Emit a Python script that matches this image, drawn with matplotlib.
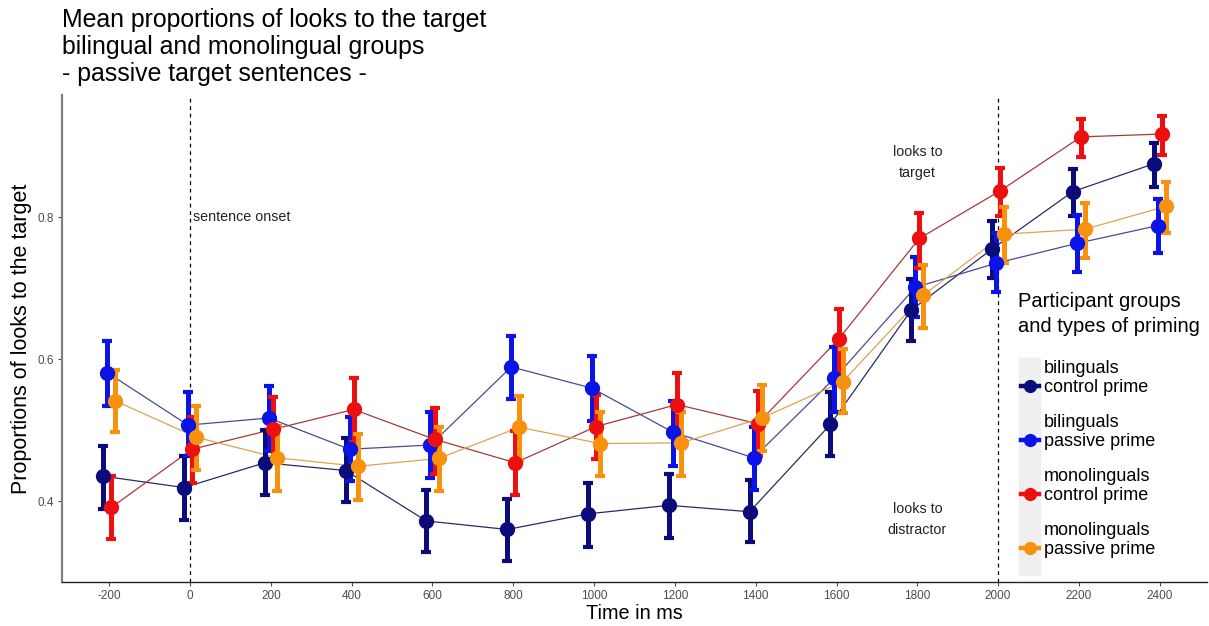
import matplotlib
matplotlib.use("Agg")
import matplotlib.pyplot as plt
from matplotlib.lines import Line2D
from matplotlib.patches import Rectangle

plt.rcParams["font.family"] = ["Liberation Sans", "DejaVu Sans"]
plt.rcParams["axes.unicode_minus"] = False

# time bins (ms) and mean proportions of looks to the target per group
time_ms = [-200, 0, 200, 400, 600, 800, 1000, 1200, 1400, 1600, 1800, 2000, 2200, 2400]

bil_control = [0.435, 0.419, 0.454, 0.443, 0.372, 0.360, 0.382, 0.394, 0.385, 0.508, 0.669, 0.755, 0.836, 0.875]
bil_control_lo = [0.389, 0.374, 0.409, 0.398, 0.328, 0.316, 0.336, 0.348, 0.342, 0.463, 0.626, 0.714, 0.801, 0.842]
bil_control_hi = [0.478, 0.464, 0.500, 0.489, 0.416, 0.403, 0.425, 0.438, 0.430, 0.553, 0.713, 0.795, 0.868, 0.904]

bil_passive = [0.581, 0.507, 0.517, 0.473, 0.479, 0.589, 0.559, 0.497, 0.461, 0.573, 0.701, 0.735, 0.763, 0.788]
bil_passive_lo = [0.534, 0.463, 0.471, 0.428, 0.433, 0.544, 0.513, 0.450, 0.415, 0.526, 0.659, 0.694, 0.723, 0.749]
bil_passive_hi = [0.625, 0.554, 0.562, 0.518, 0.525, 0.633, 0.604, 0.541, 0.505, 0.617, 0.744, 0.777, 0.803, 0.825]

mono_control = [0.391, 0.473, 0.501, 0.529, 0.487, 0.454, 0.505, 0.536, 0.509, 0.628, 0.770, 0.837, 0.913, 0.917]
mono_control_lo = [0.346, 0.426, 0.456, 0.483, 0.438, 0.409, 0.459, 0.490, 0.464, 0.581, 0.728, 0.802, 0.885, 0.888]
mono_control_hi = [0.436, 0.518, 0.546, 0.574, 0.531, 0.498, 0.550, 0.580, 0.555, 0.670, 0.806, 0.869, 0.938, 0.943]

mono_passive = [0.541, 0.490, 0.461, 0.449, 0.460, 0.504, 0.481, 0.482, 0.517, 0.568, 0.690, 0.776, 0.783, 0.815]
mono_passive_lo = [0.497, 0.444, 0.414, 0.402, 0.414, 0.458, 0.436, 0.436, 0.471, 0.524, 0.644, 0.735, 0.743, 0.777]
mono_passive_hi = [0.585, 0.534, 0.506, 0.494, 0.504, 0.548, 0.526, 0.526, 0.563, 0.614, 0.732, 0.814, 0.820, 0.850]

group_labels = ["bilinguals\ncontrol prime", "bilinguals\npassive prime",
                "monolinguals\ncontrol prime", "monolinguals\npassive prime"]

series = [
    (bil_control, bil_control_lo, bil_control_hi, "#0b0b7a", "#2a2a66", -15),
    (bil_passive, bil_passive_lo, bil_passive_hi, "#0a14e6", "#4a4a92", -5),
    (mono_control, mono_control_lo, mono_control_hi, "#ec1010", "#a63a3a", 5),
    (mono_passive, mono_passive_lo, mono_passive_hi, "#f8920e", "#d9a552", 15),
]

W, H = 1209, 626
fig = plt.figure(figsize=(W / 100, H / 100), dpi=100)
ax = fig.add_axes([62 / W, 1 - 582 / H, (1207 - 62) / W, (582 - 95) / H])

for mean, lo, hi, col, line_col, shift in series:
    xs = [t + shift for t in time_ms]
    ax.plot(xs, mean, color=line_col, lw=0.9, zorder=2)
    yerr = [[m - l for m, l in zip(mean, lo)], [h - m for m, h in zip(mean, hi)]]
    ax.errorbar(xs, mean, yerr=yerr, fmt="none", ecolor=col, elinewidth=3.6,
                capsize=3.8, capthick=3, zorder=3)
    ax.plot(xs, mean, "o", color=col, ms=10, mec=col, zorder=4)

for t in (0, 2000):
    ax.axvline(t, color="black", lw=0.9, ls=(0, (3, 3)), zorder=1)

ax.text(8, 0.8, "sentence onset", fontsize=10.3, color="#222222", va="center", ha="left")
ax.text(1800, 0.877, "looks to\ntarget", fontsize=10.3, color="#222222",
        ha="center", va="center", linespacing=1.6)
ax.text(1800, 0.374, "looks to\ndistractor", fontsize=10.3, color="#222222",
        ha="center", va="center", linespacing=1.6)

ax.set_xlim(-317, 2517)
ax.set_ylim(0.286, 0.972)
ax.set_xticks(time_ms)
ax.set_xticklabels([str(t) for t in time_ms])
ax.set_yticks([0.4, 0.6, 0.8])
ax.set_yticklabels(["0.4", "0.6", "0.8"])
ax.tick_params(labelsize=8.5, labelcolor="#4d4d4d", color="#4d4d4d", length=3, width=0.8, pad=3)
for side in ("top", "right"):
    ax.spines[side].set_visible(False)
ax.spines["left"].set_color("#808080")
ax.spines["left"].set_linewidth(1.6)
ax.spines["bottom"].set_color("#222222")
ax.spines["bottom"].set_linewidth(1.0)

ax.set_xlabel("Time in ms", fontsize=14.3, labelpad=1)
ax.set_ylabel("Proportions of looks to the target", fontsize=15.5, labelpad=4)

fig.text(62 / W, 1 - 8 / H, "Mean proportions of looks to the target\n"
         "bilingual and monolingual groups\n- passive target sentences -",
         fontsize=17.9, va="top", ha="left", linespacing=1.15)

# legend drawn by hand in figure pixels
def fx(x):
    return x / W


def fy(y):
    return 1 - y / H


fig.text(fx(1018), fy(292), "Participant groups\nand types of priming",
         fontsize=14.5, va="top", ha="left", linespacing=1.38)
fig.patches.append(Rectangle((fx(1019), fy(575)), fx(21), 217 / H,
                             transform=fig.transFigure, color="#efefef", zorder=0))
for i, (label, s) in enumerate(zip(group_labels, series)):
    yc = 386 + 54 * i
    fig.add_artist(Line2D([fx(1021), fx(1039)], [fy(yc), fy(yc)], color=s[3], lw=3.2,
                          transform=fig.transFigure))
    fig.add_artist(Line2D([fx(1030)], [fy(yc)], color=s[3], marker="o", ms=8.5,
                          transform=fig.transFigure))
    fig.text(fx(1044), fy(yc - 8), label, fontsize=13, va="center", ha="left",
             linespacing=1.2)

fig.savefig("out.png", dpi=100)
